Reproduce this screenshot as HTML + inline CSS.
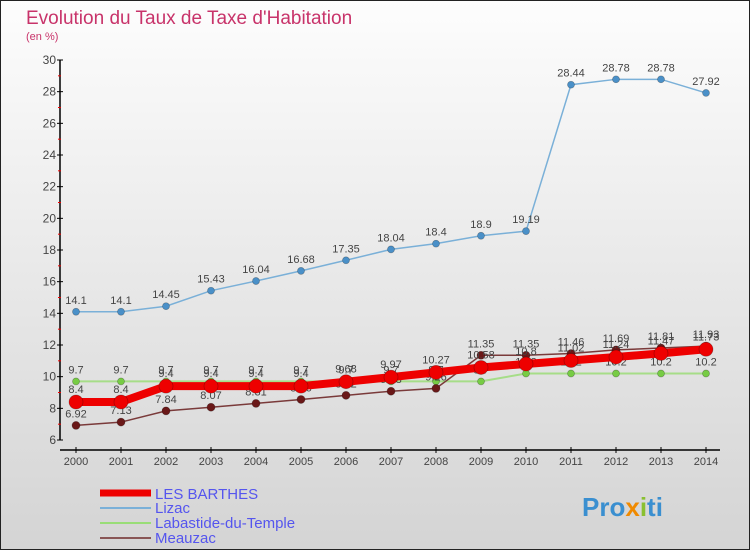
<!DOCTYPE html>
<html><head><meta charset="utf-8"><style>
body{margin:0;}
#c{width:750px;height:550px;position:relative;overflow:hidden;font-family:"Liberation Sans",sans-serif;}
</style></head><body>
<div id="c">
<svg id="s" width="750" height="550" xmlns="http://www.w3.org/2000/svg">
<defs><linearGradient id="bg" x1="0" y1="0" x2="0" y2="1"><stop offset="0" stop-color="#fdfdfd"/><stop offset="1" stop-color="#d4d4d4"/></linearGradient></defs>
<rect x="0.5" y="0.5" width="749" height="549" fill="url(#bg)" stroke="#222"/>
<text x="26" y="24" font-size="19" fill="#c8336a">Evolution du Taux de Taxe d'Habitation</text>
<text x="26" y="40" font-size="11" fill="#c8336a">(en %)</text>
<g id="axes"></g><g id="series"></g>
<g>
<line x1="100" y1="493" x2="151" y2="493" stroke="#ee0000" stroke-width="7"/>
<text x="155" y="499" font-size="15" fill="#5555ee">LES BARTHES</text>
<line x1="100" y1="508" x2="151" y2="508" stroke="#7ab0d8" stroke-width="2"/>
<text x="155" y="513" font-size="15" fill="#5555ee">Lizac</text>
<line x1="100" y1="523" x2="151" y2="523" stroke="#99dd77" stroke-width="2"/>
<text x="155" y="528" font-size="15" fill="#5555ee">Labastide-du-Temple</text>
<line x1="100" y1="538" x2="151" y2="538" stroke="#885555" stroke-width="2"/>
<text x="155" y="543" font-size="15" fill="#5555ee">Meauzac</text>
</g>
<text x="582" y="516" font-size="26" font-weight="bold" fill="#3a8fd0">Pro<tspan fill="#f08a00">x</tspan><tspan fill="#8ac030">i</tspan>ti</text>
</svg>
</div>
<script>
const years=[2000,2001,2002,2003,2004,2005,2006,2007,2008,2009,2010,2011,2012,2013,2014];
const yTicks=[6,8,10,12,14,16,18,20,22,24,26,28,30];
const lesBarthes=[8.4,8.4,9.4,9.4,9.4,9.4,9.68,9.97,10.27,10.58,10.8,11.02,11.24,11.47,11.73];
const lizac=[14.1,14.1,14.45,15.43,16.04,16.68,17.35,18.04,18.4,18.9,19.19,28.44,28.78,28.78,27.92];
const labastide=[9.7,9.7,9.7,9.7,9.7,9.7,9.7,9.7,9.7,9.7,10.2,10.2,10.2,10.2,10.2];
const meauzac=[6.92,7.13,7.84,8.07,8.31,8.56,8.82,9.08,9.26,11.35,11.35,11.46,11.69,11.81,11.93];
const NS="http://www.w3.org/2000/svg";
const X=i=>76+i*45;
const Y=v=>440-(v-6)*(380/24);
function mk(t,a,p){const e=document.createElementNS(NS,t);for(const k in a)e.setAttribute(k,a[k]);p.appendChild(e);return e;}
const ax=document.getElementById('axes');
let l=mk('line',{x1:60,y1:60,x2:60,y2:440,stroke:'#000','stroke-width':1.5},ax);


l=mk('line',{x1:60,y1:450,x2:720,y2:450,stroke:'#000','stroke-width':1.5},ax);


yTicks.forEach(v=>{
 mk('line',{x1:57,y1:Y(v),x2:63,y2:Y(v),stroke:'#000'},ax);
 if(v<30)mk('line',{x1:58,y1:Y(v+1),x2:61,y2:Y(v+1),stroke:'#e00'},ax);
 const t=mk('text',{x:56,y:Y(v)+4,'font-size':12,fill:'#444','text-anchor':'end'},ax);t.textContent=v;
 
 
});
years.forEach((yr,i)=>{
 mk('line',{x1:X(i),y1:447,x2:X(i),y2:453,stroke:'#000'},ax);
 const t=mk('text',{x:X(i),y:465,'font-size':11,fill:'#444','text-anchor':'middle'},ax);t.textContent=yr;
 
 
});
const sg=document.getElementById('series');
function draw(name,data,col,w,r,dot,lab,dy){
 const g=mk('g',{},sg);
 
 
 const p=mk('polyline',{points:data.map((v,i)=>X(i)+','+Y(v)).join(' '),fill:'none',stroke:col,'stroke-width':w},g);
 
 
 data.forEach((v,i)=>{
  const c=mk('circle',{cx:X(i),cy:Y(v),r:r,fill:dot,stroke:'rgba(0,0,0,0.3)','stroke-width':0.7},g);
  
  
  const t=mk('text',{x:X(i),y:Y(v)+dy,'font-size':11,fill:'#444','text-anchor':'middle'},g);t.textContent=v;
  
  
 });
}
draw('lizac',lizac,'#7ab0d8',1.5,3.5,'#4a90c8','',-8);
draw('labastide',labastide,'#a6dd88',2,3.5,'#77cc44','',-8);
draw('meauzac',meauzac,'#7a3a3a',1.5,4,'#6a1818','',-8);
draw('les-barthes',lesBarthes,'#ee0000',8,7,'#ee0000','',-9);
</script>
</body></html>
